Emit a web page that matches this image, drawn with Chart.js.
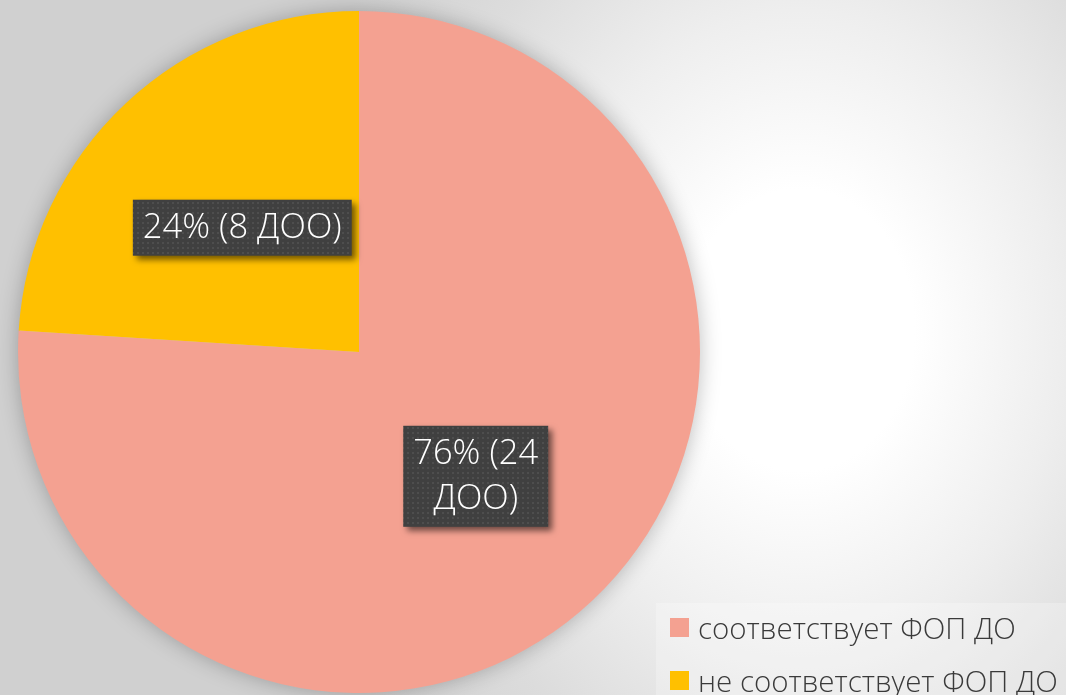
<!DOCTYPE html>
<html>
<head>
<meta charset="utf-8">
<script src="https://cdn.jsdelivr.net/npm/chart.js@4/dist/chart.umd.min.js"></script>
<style>
  html, body { margin: 0; padding: 0; }
  body {
    width: 1066px; height: 695px; overflow: hidden; position: relative;
    background: radial-gradient(ellipse 520px 640px at 800px 330px, #ffffff 0%, #ffffff 22%, #eeeeee 50%, #dcdcdc 75%, #d0d0d0 100%);
    background-color: #d0d0d0;
    font-family: 'Open Sans', 'Noto Sans', sans-serif;
  }
  #wrap { position: absolute; left: 0; top: 0; width: 1066px; height: 695px; }
  #legend {
    position: absolute; left: 656px; top: 603px; width: 410px; height: 92px;
    background: rgba(255, 255, 255, 0.25);
  }
  .item { position: absolute; left: 14px; display: flex; align-items: center; white-space: nowrap; }
  .box { width: 19px; height: 19px; margin-right: 9px; }
  .txt { font-size: 29.5px; font-weight: 300; color: #3a3a3a; }
</style>
</head>
<body>
<div id="wrap"><canvas id="c"></canvas></div>
<div id="legend"></div>
<script>
// data
const categories = ['соответствует ФОП ДО', 'не соответствует ФОП ДО']
const percents = [76, 24]
const counts = [24, 8]
const colors = ['#F4A191', '#FFC000']
const wrapWidths = [140, 260] // label boxes wrap like in the original

// dotted fill for data label boxes
const pat = document.createElement('canvas')
pat.width = 5; pat.height = 5
const pctx = pat.getContext('2d')
pctx.fillStyle = '#404040'
pctx.fillRect(0, 0, 5, 5)
pctx.fillStyle = '#4e4e4e'
pctx.fillRect(2, 2, 2, 2)

function wrapText(ctx, text, maxW) {
  const words = text.split(' ')
  const lines = []
  let cur = ''
  words.forEach(w => {
    const test = cur ? cur + ' ' + w : w
    if (ctx.measureText(test).width > maxW && cur) {
      lines.push(cur)
      cur = w
    } else {
      cur = test
    }
  })
  if (cur) lines.push(cur)
  return lines
}

// soft shadow behind the whole pie
const pieShadow = {
  id: 'pieShadow',
  beforeDatasetsDraw(chart) {
    const arc = chart.getDatasetMeta(0).data[0]
    if (!arc) return
    const ctx = chart.ctx
    ctx.save()
    ctx.shadowColor = 'rgba(0,0,0,0.28)'
    ctx.shadowBlur = 22
    ctx.fillStyle = '#cccccc'
    ctx.beginPath()
    ctx.arc(arc.x, arc.y, arc.outerRadius - 1, 0, Math.PI * 2)
    ctx.fill()
    ctx.restore()
  }
}

// dark label boxes in the middle of each slice
const sliceLabels = {
  id: 'sliceLabels',
  afterDatasetsDraw(chart) {
    const ctx = chart.ctx
    const meta = chart.getDatasetMeta(0)
    ctx.save()
    ctx.font = '300 34.5px "Open Sans", "Noto Sans", sans-serif'
    meta.data.forEach((arc, i) => {
      const pos = arc.tooltipPosition()
      const text = percents[i] + '% (' + counts[i] + ' ДОО)'
      const lines = wrapText(ctx, text, wrapWidths[i])
      const lh = 45
      const w = Math.max(...lines.map(l => ctx.measureText(l).width)) + 20
      const h = lines.length * lh + 11
      const x = pos.x - w / 2
      const y = pos.y - h / 2
      ctx.save()
      ctx.shadowColor = 'rgba(0,0,0,0.55)'
      ctx.shadowBlur = 6
      ctx.shadowOffsetX = 4
      ctx.shadowOffsetY = 4
      ctx.fillStyle = ctx.createPattern(pat, 'repeat')
      ctx.fillRect(x, y, w, h)
      ctx.restore()
      ctx.fillStyle = '#ffffff'
      ctx.textAlign = 'center'
      ctx.textBaseline = 'middle'
      lines.forEach((l, j) => {
        ctx.fillText(l, pos.x, y + 5 + lh * j + lh / 2 + 1)
      })
    })
    ctx.restore()
  }
}

new Chart(document.getElementById('c'), {
  type: 'pie',
  data: {
    labels: categories,
    datasets: [{
      data: percents,
      backgroundColor: colors,
      borderWidth: 0
    }]
  },
  options: {
    responsive: true,
    maintainAspectRatio: false,
    animation: false,
    layout: { padding: { left: 18, top: 11, right: 366, bottom: 2 } },
    plugins: {
      legend: { display: false },
      tooltip: { enabled: false }
    }
  },
  plugins: [pieShadow, sliceLabels]
})

// legend
const legend = document.getElementById('legend')
categories.forEach((label, i) => {
  const row = document.createElement('div')
  row.className = 'item'
  row.style.top = (4 + i * 53) + 'px'
  row.innerHTML = '<div class="box" style="background:' + colors[i] + '"></div><span class="txt">' + label + '</span>'
  legend.appendChild(row)
})
</script>
</body>
</html>
